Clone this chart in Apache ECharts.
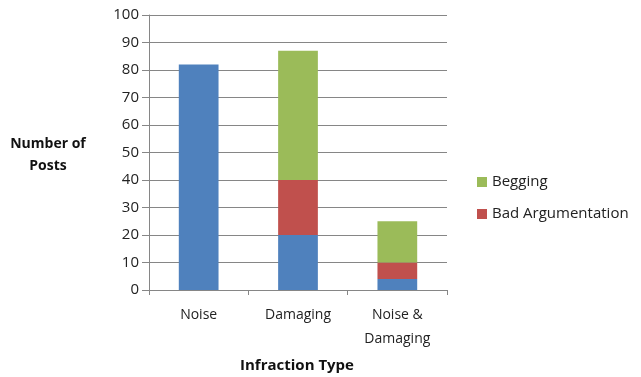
<!DOCTYPE html>
<html>
<head>
<meta charset="utf-8">
<script src="https://cdn.jsdelivr.net/npm/echarts@6/dist/echarts.min.js"></script>
<style>
  html, body { margin: 0; padding: 0; background: #fff; }
  #chart { width: 641px; height: 377px; }
</style>
</head>
<body>
<div id="chart"></div>
<script>
// Infraction types on the category axis
const categories = ['Noise', 'Damaging', 'Noise &\nDamaging'];
// Stacked counts per infraction type
const baseCounts = [82, 20, 4];
const badArgumentation = [0, 20, 6];
const begging = [0, 47, 15];
// Value axis
const yTicks = { min: 0, max: 100, interval: 10 };

const font = '"Open Sans", "Liberation Sans", Arial, sans-serif';
const textColor = '#222';
const gridColor = '#868686';

const chart = echarts.init(document.getElementById('chart'), null, { renderer: 'canvas' });

const barCommon = {
  type: 'bar',
  stack: 'posts',
  barWidth: '40%',
  silent: true
};

chart.setOption({
  animation: false,
  backgroundColor: '#fff',
  grid: { left: 149, right: 194, top: 15, bottom: 87, containLabel: false },
  xAxis: {
    type: 'category',
    data: categories,
    boundaryGap: true,
    axisLine: { lineStyle: { color: gridColor, width: 1 } },
    axisTick: { show: true, length: 5, lineStyle: { color: gridColor } },
    axisLabel: {
      color: textColor, fontFamily: font, fontSize: 14,
      margin: 13, lineHeight: 24, interval: 0
    }
  },
  yAxis: {
    type: 'value',
    min: yTicks.min, max: yTicks.max, interval: yTicks.interval,
    axisLine: { show: true, lineStyle: { color: gridColor, width: 1 } },
    axisTick: { show: true, length: 7, inside: false, lineStyle: { color: gridColor } },
    splitLine: { show: true, lineStyle: { color: gridColor, width: 1 } },
    axisLabel: { color: textColor, fontFamily: font, fontSize: 15, margin: 10 }
  },
  legend: {
    show: true,
    data: ['Begging', 'Bad Argumentation'],
    orient: 'vertical',
    left: 472, top: 168,
    itemWidth: 10, itemHeight: 10, itemGap: 14,
    icon: 'rect',
    textStyle: { color: textColor, fontFamily: font, fontSize: 15, lineHeight: 18 }
  },
  graphic: [
    {
      type: 'text', x: 48, y: 133,
      style: {
        text: 'Number of\nPosts', fill: '#111', font: 'bold 14px ' + font,
        align: 'center', verticalAlign: 'top', lineHeight: 22
      }
    },
    {
      type: 'text', x: 297, y: 358,
      style: {
        text: 'Infraction Type', fill: '#111', font: 'bold 15px ' + font,
        align: 'center', verticalAlign: 'top'
      }
    }
  ],
  series: [
    Object.assign({ name: 'Infractions', data: baseCounts, itemStyle: { color: '#4F81BD' } }, barCommon),
    Object.assign({ name: 'Bad Argumentation', data: badArgumentation, itemStyle: { color: '#C0504D' } }, barCommon),
    Object.assign({ name: 'Begging', data: begging, itemStyle: { color: '#9BBB59' } }, barCommon)
  ]
});
</script>
</body>
</html>
